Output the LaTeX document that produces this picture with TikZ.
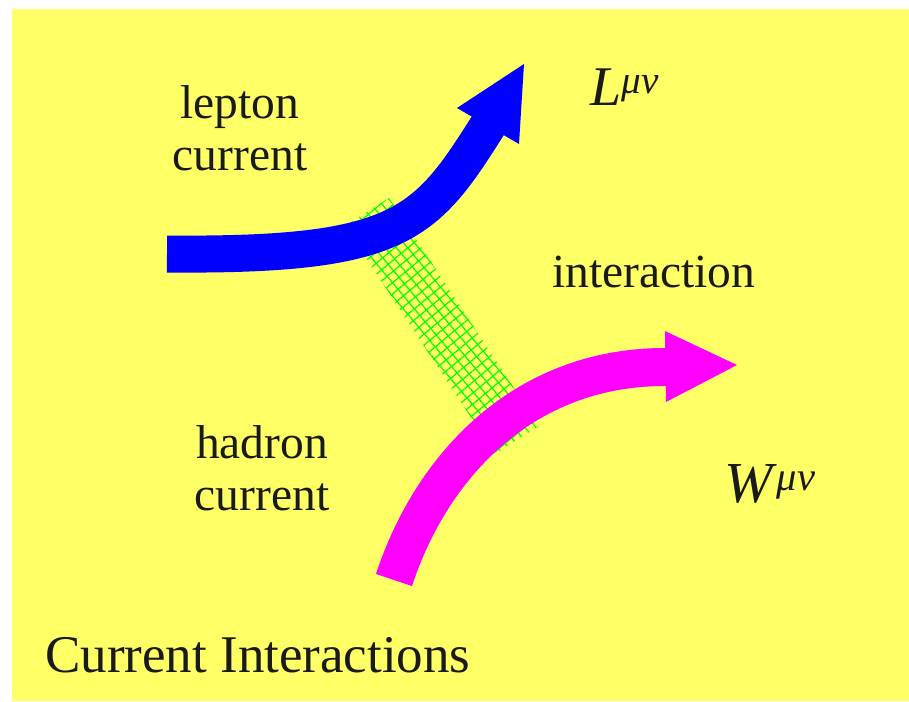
\documentclass[tikz,border=0pt]{standalone}
\usepackage{fontspec}
\setmainfont{Liberation Serif}
\usetikzlibrary{patterns.meta}
\definecolor{bgyellow}{HTML}{FFFF66}
\definecolor{arrowblue}{HTML}{0000FF}
\definecolor{arrowmagenta}{HTML}{FF00FF}
\definecolor{hatchgreen}{HTML}{00FF00}
\definecolor{txt}{HTML}{1A1A1A}
\tikzset{
  label text/.style={text=txt, inner sep=0pt, font=\fontsize{47.5}{52}\selectfont},
  title text/.style={text=txt, inner sep=0pt, font=\fontsize{53}{58}\selectfont},
  tensor text/.style={text=txt, inner sep=0pt},
  hatchband/.style={pattern={Lines[angle=40,distance=8.5pt,line width=1.2pt]}, pattern color=hatchgreen},
  hatchband2/.style={pattern={Lines[angle=-50,distance=8.5pt,line width=1.2pt]}, pattern color=hatchgreen},
}
\begin{document}
\begin{tikzpicture}[x=1pt,y=-1pt]
\useasboundingbox (0,0) rectangle (909,701);
\fill[white] (0,0) rectangle (909,701);
\fill[bgyellow] (12,9) rectangle (909,701);

% interaction band
\coordinate (b1) at (345,226);
\coordinate (b2) at (389,198);
\coordinate (b3) at (539,426);
\coordinate (b4) at (495,454);
\fill[hatchband] (b1) -- (b2) -- (b3) -- (b4) -- cycle;
\fill[hatchband2] (b1) -- (b2) -- (b3) -- (b4) -- cycle;

% lepton current arrow
\coordinate (lstart) at (167,254);
\coordinate (lend) at (487,127);
\coordinate (lin) at (492,119);
\draw[arrowblue, line width=37pt] (lstart) .. controls (400,256) and (425,225) .. (lend) -- (lin);
\fill[arrowblue] (457,108) -- (524,64) -- (519,144) -- cycle;

% hadron current arrow
\coordinate (hstart) at (394,580);
\coordinate (hend) at (665,367);
\coordinate (hin) at (673,367);
\draw[arrowmagenta, line width=38pt] (hstart) .. controls (430,470) and (520,367) .. (hend) -- (hin);
\fill[arrowmagenta] (665,331) -- (737,365) -- (666,402) -- cycle;

% texts
\node[label text, anchor=base] (lep1) at (240,118) {lepton};
\node[label text, anchor=base] (lep2) at (240,170) {current};
\node[label text, anchor=base west] (inter) at (552,287) {interaction};
\node[label text, anchor=base] (had1) at (262,458) {hadron};
\node[label text, anchor=base] (had2) at (262,510) {current};
\node[title text, anchor=base west] (title) at (45,672) {Current Interactions};
\node[tensor text, anchor=base west, font=\fontsize{56}{62}\selectfont] (Lmn) at (590,105) {\textit{L}\textsuperscript{\textit{μν}}};
\node[tensor text, anchor=base west, font=\fontsize{58}{64}\selectfont] (Wmn) at (724,502) {\textit{W}\textsuperscript{\textit{μν}}};
\end{tikzpicture}
\end{document}
